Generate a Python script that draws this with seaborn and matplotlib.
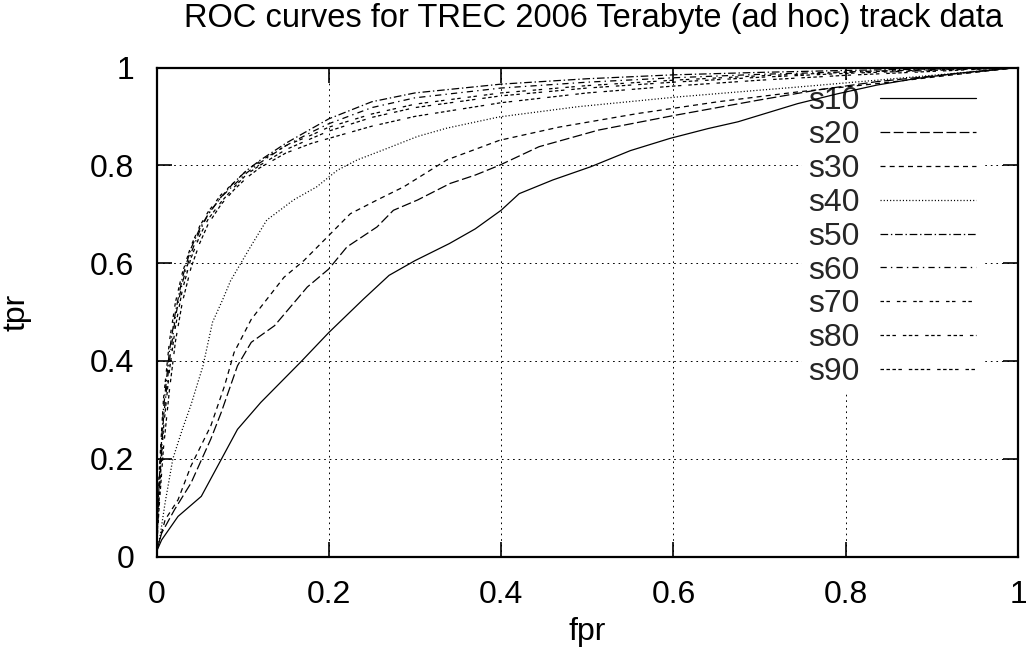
import matplotlib
matplotlib.use("Agg")
import matplotlib.pyplot as plt
import seaborn as sns
import pandas as pd

# ---------------- data ----------------
series_names = ["s10", "s20", "s30", "s40", "s50", "s60", "s70", "s80", "s90"]

s10_fpr = [0, 0.006, 0.025, 0.052, 0.075, 0.094, 0.121, 0.167, 0.2, 0.24, 0.27, 0.30, 0.34, 0.37,
           0.40, 0.421, 0.46, 0.504, 0.55, 0.596, 0.64, 0.675, 0.744, 0.79, 0.836, 0.88, 0.929, 0.97, 1]
s10_tpr = [0.01, 0.034, 0.082, 0.123, 0.198, 0.26, 0.315, 0.397, 0.458, 0.526, 0.575, 0.605, 0.64, 0.67,
           0.708, 0.742, 0.77, 0.797, 0.83, 0.855, 0.875, 0.889, 0.926, 0.946, 0.964, 0.977, 0.988, 0.995, 1]

s20_fpr = [0, 0.006, 0.021, 0.04, 0.063, 0.075, 0.094, 0.11, 0.137, 0.163, 0.175, 0.2, 0.221, 0.256,
           0.275, 0.303, 0.341, 0.37, 0.398, 0.444, 0.513, 0.601, 0.698, 0.767, 0.836, 0.92, 1]
s20_tpr = [0.01, 0.048, 0.096, 0.15, 0.24, 0.294, 0.39, 0.438, 0.472, 0.526, 0.551, 0.588, 0.633, 0.674,
           0.708, 0.729, 0.763, 0.78, 0.8, 0.838, 0.872, 0.902, 0.933, 0.954, 0.971, 0.986, 1]

s30_fpr = [0, 0.01, 0.025, 0.04, 0.063, 0.079, 0.09, 0.11, 0.121, 0.148, 0.171, 0.202, 0.225, 0.256,
           0.287, 0.337, 0.398, 0.467, 0.559, 0.652, 0.744, 0.836, 0.92, 1]
s30_tpr = [0.01, 0.075, 0.116, 0.185, 0.267, 0.349, 0.417, 0.485, 0.51, 0.571, 0.605, 0.66, 0.701, 0.729,
           0.756, 0.811, 0.851, 0.878, 0.906, 0.93, 0.95, 0.967, 0.984, 1]

s40_fpr = [0, 0.004, 0.01, 0.019, 0.03, 0.04, 0.054, 0.065, 0.077, 0.086, 0.109, 0.128, 0.159, 0.186,
           0.21, 0.233, 0.264, 0.303, 0.337, 0.398, 0.49, 0.606, 0.744, 0.836, 0.92, 1]
s40_tpr = [0.01, 0.04, 0.11, 0.2, 0.26, 0.31, 0.39, 0.479, 0.526, 0.564, 0.633, 0.688, 0.729, 0.756,
           0.79, 0.811, 0.832, 0.859, 0.876, 0.899, 0.92, 0.94, 0.96, 0.974, 0.987, 1]

cluster_fpr = [0, 0.003, 0.008, 0.015, 0.022, 0.03, 0.04, 0.05, 0.06, 0.075, 0.09, 0.105, 0.12, 0.15,
               0.18, 0.2, 0.25, 0.3, 0.4, 0.5, 0.6, 0.7, 0.8, 0.9, 1]
s50_tpr = [0.01, 0.15, 0.30, 0.42, 0.50, 0.57, 0.63, 0.67, 0.70, 0.735, 0.765, 0.79, 0.81, 0.845,
           0.875, 0.895, 0.93, 0.948, 0.966, 0.977, 0.985, 0.99, 0.994, 0.997, 1]
s60_tpr = [0.01, 0.13, 0.28, 0.40, 0.49, 0.56, 0.62, 0.665, 0.70, 0.735, 0.76, 0.785, 0.805, 0.84,
           0.868, 0.885, 0.918, 0.938, 0.958, 0.97, 0.979, 0.986, 0.991, 0.996, 1]
s70_tpr = [0.01, 0.17, 0.32, 0.44, 0.52, 0.58, 0.635, 0.675, 0.705, 0.74, 0.765, 0.79, 0.808, 0.84,
           0.862, 0.878, 0.905, 0.925, 0.948, 0.963, 0.974, 0.983, 0.99, 0.995, 1]
s80_tpr = [0.01, 0.12, 0.26, 0.38, 0.47, 0.545, 0.61, 0.655, 0.69, 0.725, 0.755, 0.782, 0.80, 0.832,
           0.855, 0.87, 0.898, 0.918, 0.942, 0.958, 0.97, 0.98, 0.988, 0.994, 1]
s90_tpr = [0.01, 0.10, 0.22, 0.34, 0.44, 0.52, 0.59, 0.64, 0.68, 0.72, 0.75, 0.775, 0.795, 0.825,
           0.845, 0.855, 0.88, 0.90, 0.928, 0.948, 0.962, 0.974, 0.984, 0.992, 1]

tick_values = [0, 0.2, 0.4, 0.6, 0.8, 1]
tick_labels = ["0", "0.2", "0.4", "0.6", "0.8", "1"]

# ---------------- build long-form table ----------------
curves = {
    "s10": (s10_fpr, s10_tpr), "s20": (s20_fpr, s20_tpr), "s30": (s30_fpr, s30_tpr),
    "s40": (s40_fpr, s40_tpr), "s50": (cluster_fpr, s50_tpr), "s60": (cluster_fpr, s60_tpr),
    "s70": (cluster_fpr, s70_tpr), "s80": (cluster_fpr, s80_tpr), "s90": (cluster_fpr, s90_tpr),
}
frames = []
for name in series_names:
    fx, ty = curves[name]
    frames.append(pd.DataFrame({"fpr": fx, "tpr": ty, "series": name}))
df = pd.concat(frames, ignore_index=True)

# gnuplot-like dash patterns (points, unscaled)
dash_map = {
    "s10": "",
    "s20": (7, 2.5),
    "s30": (3.6, 3.0),
    "s40": (0.8, 1.5),
    "s50": (5.5, 2, 1, 2),
    "s60": (4.5, 3, 1, 3),
    "s70": (2.5, 1.8, 2.5, 5),
    "s80": (2.5, 1.8, 2.5, 1.8, 2.5, 5),
    "s90": (2.5, 1.8, 2.5, 1.8, 2.5, 1.8, 2.5, 5),
}

# ---------------- style ----------------
sns.set_theme(style="white")
plt.rcParams["font.family"] = ["Liberation Sans", "DejaVu Sans"]
plt.rcParams["lines.scale_dashes"] = False

FS = 23
fig = plt.figure(figsize=(10.26, 6.63), dpi=100)
W, H = 1026, 663
L, R, T, B = 156.5, 1018, 67.5, 556.5
ax = fig.add_axes([L / W, 1 - B / H, (R - L) / W, (B - T) / H])

sns.lineplot(data=df, x="fpr", y="tpr", hue="series", style="series",
             palette=["black"] * len(series_names), dashes=dash_map,
             sort=False, estimator=None, linewidth=0.9, ax=ax, zorder=3)

ax.set_xlim(0, 1)
ax.set_ylim(0, 1)
ax.set_xticks(tick_values)
ax.set_xticklabels(tick_labels)
ax.set_yticks(tick_values)
ax.set_yticklabels(tick_labels)

ax.set_axisbelow(True)
ax.grid(True, color="black", linestyle=(0, (1.2, 2.8)), linewidth=0.7)

for sp in ax.spines.values():
    sp.set_visible(True)
    sp.set_color("black")
    sp.set_linewidth(1.6)

ax.tick_params(axis="both", direction="in", length=11, width=1.2, colors="black",
               top=True, right=True, bottom=True, left=True, labelsize=FS)
ax.tick_params(axis="x", pad=17)
ax.tick_params(axis="y", pad=16)

ax.set_xlabel("fpr", fontsize=FS, color="black")
ax.set_ylabel("tpr", fontsize=FS, color="black")
ax.xaxis.set_label_coords(0.5, (B - 617) / (B - T))
ax.yaxis.set_label_coords((31 - L) / (R - L), 0.5)

fig.text(593 / W, 1 - 18 / H, "ROC curves for TREC 2006 Terabyte (ad hoc) track data",
         ha="center", va="center", fontsize=23.5, color="black")

handles, labels = ax.get_legend_handles_labels()
leg = ax.legend(handles, labels, loc="upper right",
                bbox_to_anchor=((982 - L) / (R - L), (B - 80) / (B - T)),
                markerfirst=False, frameon=True, fontsize=FS, labelspacing=0.12,
                handlelength=3.0, handletextpad=0.63, borderpad=0.2, borderaxespad=0)
leg.get_frame().set_linewidth(0)
leg.get_frame().set_facecolor("white")
leg.get_frame().set_alpha(1)
leg.set_zorder(1)
for h in leg.get_lines():
    h.set_linewidth(0.9)

fig.savefig("out.png", dpi=100)
